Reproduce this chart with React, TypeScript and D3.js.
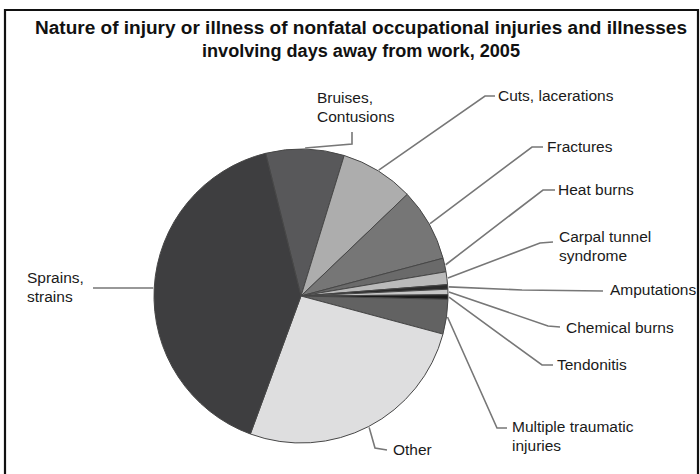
import React from "react";
import * as d3 from "d3";

const categories: string[] = [
  "Bruises, Contusions",
  "Cuts, lacerations",
  "Fractures",
  "Heat burns",
  "Carpal tunnel syndrome",
  "Amputations",
  "Chemical burns",
  "Tendonitis",
  "Multiple traumatic injuries",
  "Other",
  "Sprains, strains",
];
const values: number[] = [8.6, 8.1, 8.0, 1.5, 1.4, 0.5, 0.6, 0.5, 3.8, 26.4, 40.5];
const labelLines: string[][] = [
  ["Bruises,", "Contusions"],
  ["Cuts, lacerations"],
  ["Fractures"],
  ["Heat burns"],
  ["Carpal tunnel", "syndrome"],
  ["Amputations"],
  ["Chemical burns"],
  ["Tendonitis"],
  ["Multiple traumatic", "injuries"],
  ["Other"],
  ["Sprains,", "strains"],
];
const titleLines: string[] = [
  "Nature of injury or illness of nonfatal occupational injuries and illnesses",
  "involving days away from work, 2005",
];

// styling / layout (not data)
const titleWidths: number[] = [652, 318];
const sliceColors: string[] = [
  "#58585a", "#adadad", "#767676", "#6a6a6a", "#bababa", "#2a2a2a",
  "#c6c6c6", "#1c1c1c", "#626262", "#dededf", "#3e3e40",
];
// leader bend points after pie-edge start, and text anchor (x, first-line center y)
const leaderBends: [number, number][][] = [
  [[352, 144], [352, 132]],
  [[485, 96], [495, 96]],
  [[532, 147], [543, 147]],
  [[543, 190], [555, 190]],
  [[540, 243], [553, 242]],
  [[522, 290], [603, 291]],
  [[548, 326], [560, 327]],
  [[542, 365], [553, 365]],
  [[497, 428], [507, 428]],
  [[375, 448], [387, 450]],
  [[125, 288], [93, 288]],
];
const textPos: [number, number][] = [
  [317, 98],
  [498, 96],
  [547, 147],
  [558, 190],
  [559, 237],
  [610, 290],
  [566, 328],
  [557, 365],
  [512, 427],
  [393, 450],
  [27, 278],
];

const W = 700;
const H = 474;
const CX = 301;
const CY = 296;
const R = 147;
const START = (-13.9 * Math.PI) / 180;

export default function App() {
  const pie = d3
    .pie<number>()
    .sort(null)
    .value((d) => d)
    .startAngle(START)
    .endAngle(START + 2 * Math.PI);
  const arcs = pie(values);
  const arc = d3.arc<d3.PieArcDatum<number>>().innerRadius(0).outerRadius(R);
  const line = d3.line();

  return (
    <svg
      width={W}
      height={H}
      style={{ position: "absolute", left: 0, top: 0, background: "#fff" }}
      fontFamily="'Liberation Sans', Arial, sans-serif"
    >
      <rect x={0} y={0} width={W} height={H} fill="#fff" />
      <path d={`M5,${H + 5} V10 H698 V${H + 5}`} fill="none" stroke="#111" strokeWidth={2.2} />
      {titleLines.map((t, i) => (
        <text
          key={i}
          x={361}
          y={34 + i * 23}
          textAnchor="middle"
          fontWeight="bold"
          fontSize={17.5}
          textLength={titleWidths[i]}
          lengthAdjust="spacingAndGlyphs"
          fill="#111"
        >
          {t}
        </text>
      ))}
      <g transform={`translate(${CX},${CY})`}>
        {arcs.map((a, i) => (
          <path key={i} d={arc(a) || ""} fill={sliceColors[i]} stroke="#474747" strokeWidth={1} />
        ))}
      </g>
      {arcs.map((a, i) => {
        const mid = (a.startAngle + a.endAngle) / 2;
        const sx = CX + (R + 1) * Math.sin(mid);
        const sy = CY - (R + 1) * Math.cos(mid);
        const pts: [number, number][] = [[sx, sy], ...leaderBends[i]];
        return (
          <path key={"l" + i} d={line(pts) || ""} fill="none" stroke="#777" strokeWidth={1.6} />
        );
      })}
      {labelLines.map((ls, i) => (
        <text key={"t" + i} x={textPos[i][0]} y={textPos[i][1]} fontSize={15.5} fill="#1a1a1a">
          {ls.map((l, j) => (
            <tspan key={j} x={textPos[i][0]} dy={j === 0 ? "0.35em" : 19}>
              {l}
            </tspan>
          ))}
        </text>
      ))}
    </svg>
  );
}
